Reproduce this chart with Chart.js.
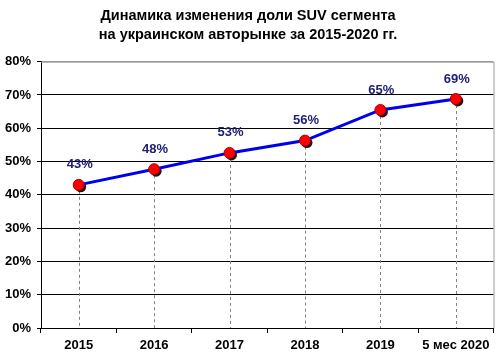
<!DOCTYPE html>
<html><head><meta charset="utf-8">
<script src="https://cdn.jsdelivr.net/npm/chart.js@4/dist/chart.umd.min.js"></script>
<style>html,body{margin:0;padding:0;background:#fff}#wrap{width:500px;height:360px}</style>
</head><body><div id="wrap"><canvas id="c" width="500" height="360"></canvas></div>
<script>
const categories = ['2015','2016','2017','2018','2019','5 мес 2020'];
const shareValues = [43.0, 47.7, 52.6, 56.3, 65.5, 68.8];
const shareLabels = ['43%','48%','53%','56%','65%','69%'];
const yTicks = [0,10,20,30,40,50,60,70,80];
const titleLines = ['Динамика изменения доли SUV сегмента','на украинском авторынке за 2015-2020 гг.'];

const FONT = "'Liberation Sans', Arial, sans-serif";

const extras = {
  id: 'extras',
  beforeDatasetsDraw(chart) {
    const ctx = chart.ctx, a = chart.chartArea;
    const meta = chart.getDatasetMeta(0);
    ctx.save();
    ctx.strokeStyle = '#9a9a9a'; ctx.lineWidth = 1;
    ctx.beginPath();
    ctx.moveTo(a.left, a.top + 0.5); ctx.lineTo(a.right + 0.5, a.top + 0.5); ctx.lineTo(a.right + 0.5, a.bottom);
    ctx.stroke();
    ctx.strokeStyle = '#808080'; ctx.setLineDash([3,3]);
    meta.data.forEach(p => {
      const x = Math.round(p.x) + 0.5;
      ctx.beginPath(); ctx.moveTo(x, p.y); ctx.lineTo(x, a.bottom); ctx.stroke();
    });
    ctx.setLineDash([]);
    ctx.fillStyle = '#1a1a1a';
    meta.data.forEach(p => {
      ctx.beginPath(); ctx.arc(p.x + 2, p.y + 2, 5.5, 0, Math.PI*2); ctx.fill();
    });
    ctx.restore();
  },
  afterDatasetsDraw(chart) {
    const ctx = chart.ctx;
    const meta = chart.getDatasetMeta(0);
    ctx.save();
    ctx.fillStyle = '#202078';
    ctx.font = 'bold 13px ' + FONT;
    ctx.textAlign = 'center'; ctx.textBaseline = 'middle';
    meta.data.forEach((p, i) => {
      ctx.fillText(shareLabels[i], p.x + 1, p.y - 20);
    });
    ctx.restore();
  }
};

new Chart(document.getElementById('c'), {
  type: 'line',
  data: {
    labels: categories,
    datasets: [{
      data: shareValues,
      borderColor: '#0000ee',
      borderWidth: 3,
      pointBackgroundColor: '#ff0000',
      pointBorderColor: '#b00000',
      pointBorderWidth: 1,
      pointRadius: 5.5,
      tension: 0
    }]
  },
  options: {
    responsive: false,
    animation: false,
    devicePixelRatio: 1,
    layout: { padding: { left: 0, right: 4, top: 0, bottom: 0 } },
    plugins: {
      legend: { display: false },
      tooltip: { enabled: false },
      title: {
        display: true,
        text: titleLines,
        color: '#000',
        font: { family: FONT, size: 14.5, weight: 'bold', lineHeight: 1.3 },
        padding: { top: 7, bottom: 17 }
      }
    },
    scales: {
      x: {
        type: 'category',
        offset: true,
        grid: { display: true, drawOnChartArea: false, offset: true, color: '#000', tickLength: 5, tickColor: '#000' },
        border: { color: '#000', width: 1 },
        ticks: { color: '#000', font: { family: FONT, size: 13, weight: 'bold' }, padding: 5, maxRotation: 0, autoSkip: false },
        afterFit(s) { s.height = 32; }
      },
      y: {
        min: 0, max: 80,
        afterBuildTicks(s) { s.ticks = yTicks.map(v => ({ value: v })); },
        grid: {
          color: (c) => (c.tick && c.tick.value === 80) ? '#9a9a9a' : '#000',
          tickLength: 4, tickColor: '#000'
        },
        border: { color: '#000', width: 1 },
        ticks: { color: '#000', font: { family: FONT, size: 13, weight: 'bold' }, padding: 6, callback: v => v + '%' },
        afterFit(s) { s.width = 41; }
      }
    }
  },
  plugins: [extras]
});
</script>
</body></html>
